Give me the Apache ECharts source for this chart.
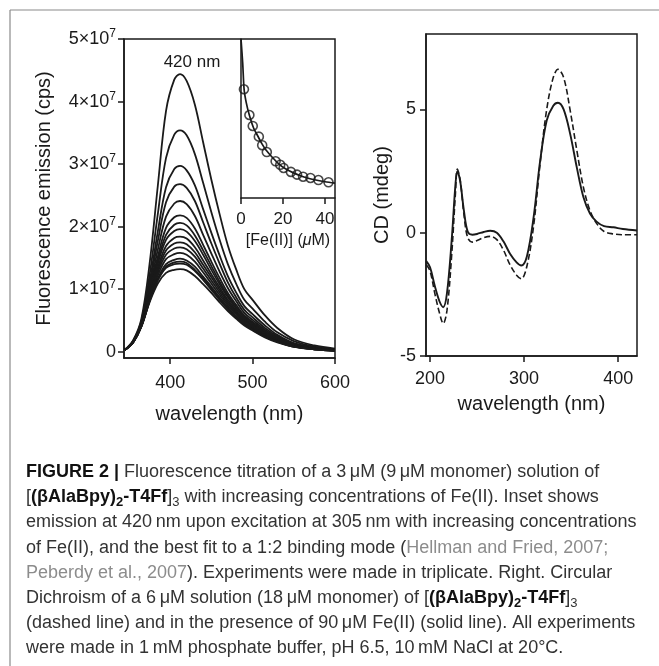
<!DOCTYPE html>
<html>
<head>
<meta charset="utf-8">
<script src="https://cdn.jsdelivr.net/npm/echarts@6/dist/echarts.min.js"></script>
<style>
html,body{margin:0;padding:0;background:#fff;}
#chart{width:659px;height:666px;}
</style>
</head>
<body>
<div id="chart"></div>
<script>
// ---------- Data: fluorescence titration (units of 1e7 cps) ----------
const emWavelength = [345,355,365,375,385,395,405,412,420,430,440,450,460,470,480,490,500,515,530,550,575,600];
const curve01 = [0.03,0.18,0.52,1.40,2.65,3.85,4.35,4.44,4.33,3.95,3.35,2.75,2.20,1.70,1.32,1.00,0.83,0.58,0.38,0.20,0.10,0.05];
const curve02 = [0.03,0.17,0.49,1.22,2.20,3.10,3.47,3.54,3.46,3.16,2.70,2.23,1.79,1.40,1.09,0.83,0.69,0.48,0.31,0.17,0.08,0.04];
const curve03 = [0.03,0.17,0.46,1.11,1.92,2.63,2.92,2.97,2.90,2.66,2.28,1.90,1.54,1.21,0.95,0.73,0.60,0.42,0.27,0.14,0.07,0.04];
const curve04 = [0.03,0.16,0.45,1.06,1.77,2.39,2.64,2.68,2.62,2.41,2.07,1.73,1.41,1.11,0.87,0.67,0.55,0.38,0.25,0.13,0.07,0.03];
const curve05 = [0.03,0.16,0.44,1.00,1.63,2.16,2.37,2.41,2.36,2.17,1.87,1.57,1.28,1.02,0.81,0.62,0.51,0.35,0.23,0.12,0.06,0.03];
const curve06 = [0.03,0.16,0.43,0.96,1.52,1.98,2.15,2.18,2.14,1.97,1.71,1.44,1.18,0.94,0.75,0.58,0.48,0.33,0.21,0.11,0.06,0.03];
const curve07 = [0.03,0.16,0.43,0.94,1.46,1.87,2.03,2.06,2.02,1.86,1.62,1.37,1.12,0.90,0.72,0.56,0.46,0.31,0.21,0.11,0.05,0.03];
const curve08 = [0.03,0.16,0.42,0.92,1.41,1.79,1.93,1.96,1.92,1.77,1.55,1.31,1.08,0.87,0.69,0.54,0.44,0.30,0.20,0.10,0.05,0.03];
const curve09 = [0.03,0.16,0.42,0.89,1.35,1.69,1.82,1.84,1.81,1.67,1.46,1.24,1.03,0.83,0.66,0.52,0.42,0.29,0.19,0.10,0.05,0.02];
const curve10 = [0.03,0.15,0.42,0.87,1.31,1.62,1.73,1.75,1.72,1.59,1.39,1.19,0.99,0.80,0.64,0.50,0.41,0.28,0.18,0.10,0.05,0.02];
const curve11 = [0.03,0.15,0.41,0.86,1.27,1.55,1.65,1.67,1.64,1.52,1.33,1.14,0.95,0.77,0.62,0.49,0.40,0.27,0.18,0.09,0.05,0.02];
const curve12 = [0.03,0.15,0.41,0.84,1.22,1.48,1.56,1.58,1.55,1.44,1.27,1.09,0.91,0.74,0.60,0.47,0.38,0.26,0.17,0.09,0.04,0.02];
const curve13 = [0.03,0.15,0.41,0.82,1.17,1.40,1.47,1.49,1.46,1.36,1.20,1.04,0.87,0.71,0.57,0.45,0.37,0.25,0.16,0.09,0.04,0.02];
const curve14 = [0.03,0.15,0.40,0.81,1.15,1.36,1.43,1.44,1.42,1.31,1.17,1.01,0.84,0.69,0.56,0.44,0.36,0.24,0.16,0.08,0.04,0.02];
const curve15 = [0.03,0.15,0.40,0.81,1.14,1.34,1.40,1.41,1.39,1.29,1.15,0.99,0.83,0.68,0.55,0.44,0.35,0.24,0.16,0.08,0.04,0.02];
const curve16 = [0.03,0.15,0.40,0.79,1.09,1.26,1.31,1.32,1.30,1.21,1.08,0.94,0.79,0.65,0.53,0.42,0.34,0.23,0.15,0.08,0.04,0.02];
const emissionCurves = [curve01,curve02,curve03,curve04,curve05,curve06,curve07,curve08,curve09,curve10,curve11,curve12,curve13,curve14,curve15,curve16];
const emYTicks = [0,1,2,3,4,5];
const emXTicks = [400,500,600];

// ---------- Inset: emission at 420 nm vs [Fe(II)] (arbitrary units) ----------
const insetConc = [1.4,4.0,5.6,8.5,10.1,12.3,16.5,18.7,20.3,23.8,26.7,29.6,33.1,36.9,41.7];
const insetEmission = [68.4,52.2,45.3,38.6,33.2,28.9,23.1,20.9,18.9,16.4,14.7,13.4,12.6,11.3,9.9];
const fitConc = [0,0.8,1.5,2.5,4,6,8,10,12,15,18,21,25,30,35,40,44.8];
const fitEmission = [100,85,68,60,52,44,39,34,30,25.5,21.5,18.5,15.8,13.2,11.5,10.2,9.3];
const insetXTicks = [0,20,40];

// ---------- Circular dichroism (mdeg) ----------
const cdWavelength = [196,200,205,210,214,218,223,227,229,232,236,240,245,250,257,264,271,278,285,292,297,303,310,317,324,331,336,342,349,356,363,370,377,385,395,405,420];
const cdWithFe = [-1.15,-1.40,-2.15,-2.78,-3.02,-2.45,-0.30,1.95,2.50,2.10,0.90,0.05,-0.08,-0.05,0.03,0.08,0.00,-0.35,-0.85,-1.20,-1.33,-0.95,0.60,2.90,4.55,5.15,5.27,5.00,4.00,2.65,1.45,0.78,0.45,0.27,0.22,0.15,0.09];
const cdNoFe = [-1.30,-1.55,-2.45,-3.25,-3.68,-3.15,-0.90,1.60,2.58,2.15,0.75,-0.20,-0.38,-0.32,-0.20,-0.15,-0.28,-0.70,-1.30,-1.72,-1.87,-1.35,0.25,2.80,5.00,6.30,6.63,6.30,4.95,3.35,1.85,0.90,0.38,0.05,-0.05,-0.08,-0.08];
const cdXTicks = [200,300,400];
const cdYTicks = [-5,0,5];

// ---------- Chart ----------
const FONT = '"Liberation Sans", Arial, sans-serif';
const INK = '#1a1a1a';
const pairs = (xs, ys) => xs.map((x, i) => [x, ys[i]]);

const chart = echarts.init(document.getElementById('chart'), null, {renderer: 'canvas'});

const series = [];
emissionCurves.forEach((c) => {
  series.push({
    type: 'line', xAxisIndex: 0, yAxisIndex: 0, data: pairs(emWavelength, c),
    showSymbol: false, smooth: 0.35, lineStyle: {color: INK, width: 1.8}, z: 2
  });
});
series.push({
  type: 'line', xAxisIndex: 1, yAxisIndex: 1, data: pairs(fitConc, fitEmission),
  showSymbol: false, smooth: 0.3, lineStyle: {color: INK, width: 1.7}
});
series.push({
  type: 'scatter', xAxisIndex: 1, yAxisIndex: 1, data: pairs(insetConc, insetEmission),
  symbol: 'circle', symbolSize: 9,
  itemStyle: {color: 'rgba(255,255,255,0)', borderColor: INK, borderWidth: 1.6}, z: 3
});
series.push({
  type: 'line', xAxisIndex: 2, yAxisIndex: 2, data: pairs(cdWavelength, cdWithFe),
  showSymbol: false, smooth: 0.35, lineStyle: {color: INK, width: 1.9}
});
series.push({
  type: 'line', xAxisIndex: 2, yAxisIndex: 2, data: pairs(cdWavelength, cdNoFe),
  showSymbol: false, smooth: 0.35, lineStyle: {color: INK, width: 1.6, type: [6, 3]}
});

const lineSt = {color: INK, width: 1.5};

const option = {
  animation: false,
  backgroundColor: '#fff',
  textStyle: {fontFamily: FONT},
  grid: [
    {left: 124, top: 39, width: 211, height: 319, show: true, borderColor: INK, borderWidth: 1.5, backgroundColor: 'transparent'},
    {left: 241, top: 39, width: 94, height: 159, show: false},
    {left: 426, top: 34, width: 211, height: 322, show: true, borderColor: INK, borderWidth: 1.5, backgroundColor: 'transparent'}
  ],
  xAxis: [
    {
      gridIndex: 0, type: 'value', min: 344, max: 600,
      axisLine: {show: true, onZero: false, lineStyle: lineSt},
      axisTick: {show: true, length: 6, customValues: emXTicks, lineStyle: lineSt},
      axisLabel: {customValues: emXTicks, margin: 16, fontSize: 18, color: INK, fontFamily: FONT},
      splitLine: {show: false},
      name: 'wavelength (nm)', nameLocation: 'middle', nameGap: 46,
      nameTextStyle: {fontSize: 20, color: INK, fontFamily: FONT}
    },
    {
      gridIndex: 1, type: 'value', min: 0, max: 44.8,
      axisLine: {show: true, onZero: false, lineStyle: lineSt},
      axisTick: {show: true, length: 6, customValues: insetXTicks, lineStyle: lineSt},
      axisLabel: {customValues: insetXTicks, margin: 13, fontSize: 17, color: INK, fontFamily: FONT},
      splitLine: {show: false},
      name: '[Fe(II)] ({i|μ}M)', nameLocation: 'middle', nameGap: 35,
      nameTextStyle: {fontSize: 16, color: INK, fontFamily: FONT,
        rich: {i: {fontSize: 16, fontStyle: 'italic', color: INK, fontFamily: FONT}}}
    },
    {
      gridIndex: 2, type: 'value', min: 195.7, max: 420,
      axisLine: {show: true, onZero: false, lineStyle: lineSt},
      axisTick: {show: true, length: 6, customValues: cdXTicks, lineStyle: lineSt},
      axisLabel: {customValues: cdXTicks, margin: 14, fontSize: 18, color: INK, fontFamily: FONT},
      splitLine: {show: false},
      name: 'wavelength (nm)', nameLocation: 'middle', nameGap: 38,
      nameTextStyle: {fontSize: 20, color: INK, fontFamily: FONT}
    }
  ],
  yAxis: [
    {
      gridIndex: 0, type: 'value', min: -0.1, max: 5,
      axisLine: {show: true, onZero: false, lineStyle: lineSt},
      axisTick: {show: true, length: 6, customValues: emYTicks, lineStyle: lineSt},
      axisLabel: {
        customValues: emYTicks, margin: 8, color: INK, fontFamily: FONT, fontSize: 18,
        formatter: v => v === 0 ? '{a|0}' : '{a|' + v + '×10}{s|7}',
        rich: {
          a: {fontSize: 18, color: INK, fontFamily: FONT},
          s: {fontSize: 12, color: INK, fontFamily: FONT, padding: [0, 0, 10, 0]}
        }
      },
      splitLine: {show: false},
      name: 'Fluorescence emission (cps)', nameLocation: 'middle', nameGap: 70,
      nameTextStyle: {fontSize: 20, color: INK, fontFamily: FONT}
    },
    {
      gridIndex: 1, type: 'value', min: 0, max: 100,
      axisLine: {show: true, onZero: false, lineStyle: lineSt},
      axisTick: {show: false}, axisLabel: {show: false}, splitLine: {show: false}
    },
    {
      gridIndex: 2, type: 'value', min: -5, max: 8.06,
      axisLine: {show: true, onZero: false, lineStyle: lineSt},
      axisTick: {show: true, length: 6, customValues: cdYTicks, lineStyle: lineSt},
      axisLabel: {customValues: cdYTicks, margin: 10, fontSize: 18, color: INK, fontFamily: FONT,
        formatter: v => String(v)},
      splitLine: {show: false},
      name: 'CD (mdeg)', nameLocation: 'middle', nameGap: 34,
      nameTextStyle: {fontSize: 20, color: INK, fontFamily: FONT}
    }
  ],
  series: series,
  graphic: []
};

// frame lines and texts
const frameColor = '#8a8a8a';
const g = option.graphic;
g.push({type: 'line', shape: {x1: 10, y1: 10, x2: 659, y2: 10}, style: {stroke: frameColor, lineWidth: 1.2}, silent: true});
g.push({type: 'line', shape: {x1: 10, y1: 10, x2: 10, y2: 666}, style: {stroke: frameColor, lineWidth: 1.2}, silent: true});
g.push({type: 'text', x: 192, y: 62, silent: true,
  style: {text: '420 nm', fontSize: 17, fontFamily: FONT, fill: INK, align: 'center', verticalAlign: 'middle'}});

// caption
const CAP = 18;
const SUB = 13;
const capRich = {
  n: {fontSize: CAP, fontFamily: FONT, fill: '#333'},
  b: {fontSize: CAP, fontFamily: FONT, fontWeight: 'bold', fill: '#111'},
  bs: {fontSize: SUB, fontFamily: FONT, fontWeight: 'bold', fill: '#111', padding: [10, 0, 0, 0]},
  s: {fontSize: SUB, fontFamily: FONT, fill: '#333', padding: [10, 0, 0, 0]},
  c: {fontSize: CAP, fontFamily: FONT, fill: '#8c8c8c'}
};
const T = '\u2009';
const captionLines = [
  '{b|FIGURE 2 |}{n| Fluorescence titration of a 3' + T + 'μM (9' + T + 'μM monomer) solution of}',
  '{n|[}{b|(βAlaBpy)}{bs|2}{b|-T4Ff}{n|]}{s|3}{n| with increasing concentrations of Fe(II). Inset shows}',
  '{n|emission at 420' + T + 'nm upon excitation at 305' + T + 'nm with increasing concentrations}',
  '{n|of Fe(II), and the best fit to a 1:2 binding mode (}{c|Hellman and Fried, 2007;}',
  '{c|Peberdy et al., 2007}{n|). Experiments were made in triplicate. Right. Circular}',
  '{n|Dichroism of a 6' + T + 'μM solution (18' + T + 'μM monomer) of }{n|[}{b|(βAlaBpy)}{bs|2}{b|-T4Ff}{n|]}{s|3}',
  '{n|(dashed line) and in the presence of 90' + T + 'μM Fe(II) (solid line). All experiments}',
  '{n|were made in 1' + T + 'mM phosphate buffer, pH 6.5, 10' + T + 'mM NaCl at 20°C.}'
];
captionLines.forEach((line, i) => {
  g.push({type: 'text', x: 26, y: 472 + i * 25.2, silent: true,
    style: {text: line, rich: capRich, fontSize: CAP, fontFamily: FONT, fill: '#333', align: 'left', verticalAlign: 'middle'}});
});

chart.setOption(option);
</script>
</body>
</html>
